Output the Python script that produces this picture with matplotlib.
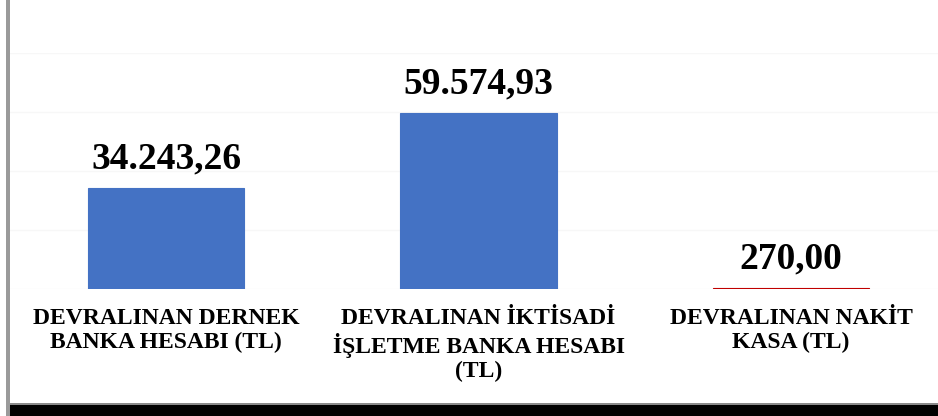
import matplotlib
matplotlib.use('Agg')
import matplotlib.pyplot as plt
from matplotlib.patches import Rectangle

# veriler
categories = ['DEVRALINAN DERNEK\nBANKA HESABI (TL)',
              'DEVRALINAN İKTİSADİ\nİŞLETME BANKA HESABI\n(TL)',
              'DEVRALINAN NAKİT\nKASA (TL)']
values = [34243.26, 59574.93, 270.00]
value_labels = ['34.243,26', '59.574,93', '270,00']
bar_colors = ['#4472C4', '#4472C4', '#C00000']

plt.rcParams['font.family'] = ['Liberation Serif', 'DejaVu Serif']

fig = plt.figure(figsize=(9.38, 4.16), dpi=100)
fig.patch.set_facecolor('white')

# kenar gölgeleri
fig.patches.append(Rectangle((0.006, 0.0), 0.005, 1.0, transform=fig.transFigure,
                             facecolor='#9a9a9a', edgecolor='none', zorder=0))
fig.patches.append(Rectangle((0.011, 0.0), 1.0, 0.027, transform=fig.transFigure,
                             facecolor='#000000', edgecolor='none', zorder=0))
fig.patches.append(Rectangle((0.011, 0.027), 1.0, 0.004, transform=fig.transFigure,
                             facecolor='#8a8a8a', edgecolor='none', zorder=0))

ax = fig.add_axes([0.0104, 0.3053, 0.9995, 0.567])
ax.set_facecolor('none')

x = range(len(values))
bars = ax.bar(x, values, width=0.5, color=bar_colors, edgecolor=bar_colors,
              linewidth=0.8, zorder=3)

for b, lab in zip(bars, value_labels):
    ax.annotate(lab, (b.get_x() + b.get_width() / 2, b.get_height()),
                xytext=(0, 14), textcoords='offset points',
                ha='center', va='baseline', fontsize=27, fontweight='bold')

ax.set_xlim(-0.5, 2.5)
ax.set_ylim(0, 80000)
ax.set_yticks([0, 20000, 40000, 60000, 80000])
ax.yaxis.grid(True, color='#f7f7f7', linewidth=1)
ax.set_axisbelow(True)
ax.tick_params(axis='y', left=False, labelleft=False)
ax.tick_params(axis='x', length=0, pad=14)
ax.set_xticks(list(x))
ax.set_xticklabels(categories, fontsize=17, fontweight='bold', linespacing=1.17)
for s in ax.spines.values():
    s.set_visible(False)

plt.savefig('out.png', dpi=100)
